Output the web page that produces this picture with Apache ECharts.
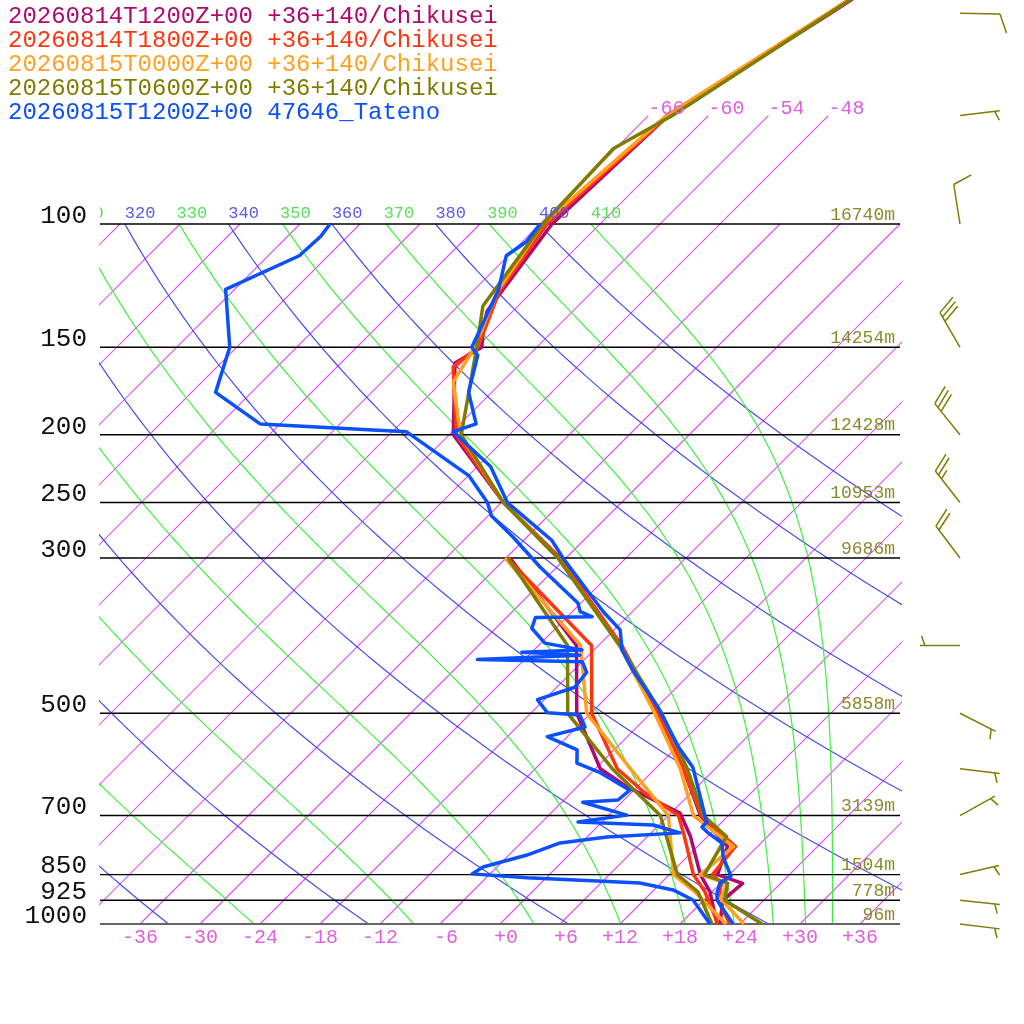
<!DOCTYPE html>
<html>
<head>
<meta charset="utf-8">
<script src="https://cdn.jsdelivr.net/npm/echarts@6/dist/echarts.min.js"></script>
<style>
html, body { margin: 0; padding: 0; background: #fff; }
#chart { width: 1024px; height: 1024px; }
</style>
</head>
<body>
<div id="chart"></div>
<script>
// ---- chart values ----
var isobarP = [100, 150, 200, 250, 300, 500, 700, 850, 925, 1000];
var isobarH = ['16740m', '14254m', '12428m', '10953m', '9686m', '5858m', '3139m', '1504m', '778m', '96m'];
var isothermT = [-108, -102, -96, -90, -84, -78, -72, -66, -60, -54, -48, -42, -36, -30, -24, -18, -12, -6, 0, 6, 12, 18, 24, 30, 36];
var upperIsothermT = [-66, -60, -54, -48];
var dryTheta = [240, 260, 280, 300, 320, 340, 360, 380, 400];
var moistThetaE = [250, 270, 290, 310, 330, 350, 370, 390, 410];
var thetaLabels = [310, 320, 330, 340, 350, 360, 370, 380, 390, 400, 410];

var names = [
    '20260814T1200Z+00 +36+140/Chikusei',
    '20260814T1800Z+00 +36+140/Chikusei',
    '20260815T0000Z+00 +36+140/Chikusei',
    '20260815T0600Z+00 +36+140/Chikusei',
    '20260815T1200Z+00 47646_Tateno'
];
var colors = ['#b0086c', '#ff3510', '#ffa020', '#807c00', '#0a50ff'];

// 14 12Z
var crimP  = [1000, 925, 875, 850, 775, 700, 600, 500, 400, 300, 250, 200, 158, 150, 139, 133, 100, 70, 50, 30];
var crimT  = [22.0, 19.9, 20.2, 16.8, 15.0, 9.2, 2.8, -5.3, -15.7, -30.6, -41.8, -53.6, -60.6, -59.5, -61.6, -62.6, -64.8, -64.0, -58.0, -49.8];
var crimDP = [1000, 900, 850, 750, 694, 637, 600, 500, 400, 300];
var crimTd = [21.7, 17.8, 15.1, 10.3, 6.9, -1.0, -5.5, -13.4, -20.2, -35.6];
// 14 18Z
var redP  = [1000, 925, 875, 850, 775, 700, 600, 500, 400, 300, 250, 200, 160, 150, 125, 100, 70, 50, 30];
var redT  = [23.0, 19.4, 18.1, 16.3, 15.8, 9.3, 2.8, -5.3, -15.7, -30.6, -41.8, -53.3, -60.4, -59.9, -63.3, -65.3, -64.0, -58.2, -50.0];
var redDP = [1000, 900, 850, 750, 700, 650, 600, 500, 400, 300];
var redTd = [21.8, 17.3, 14.4, 9.7, 7.0, 1.4, -3.8, -11.9, -18.7, -35.9];
// 15 00Z
var oraP  = [1000, 920, 875, 850, 775, 700, 600, 500, 400, 300, 250, 200, 168, 150, 125, 100, 70, 50, 30];
var oraT  = [24.4, 19.5, 18.7, 15.1, 15.6, 8.5, 2.5, -5.6, -15.9, -30.8, -41.8, -52.9, -58.9, -60.2, -63.5, -65.7, -64.2, -58.3, -50.2];
var oraDP = [1000, 900, 850, 700, 600, 500, 400, 300];
var oraTd = [22.6, 16.3, 12.4, 6.0, -2.5, -12.4, -19.8, -36.1];
// 15 06Z
var oliP  = [1000, 925, 875, 850, 750, 700, 600, 500, 400, 300, 250, 200, 150, 131, 100, 78, 70, 50, 30];
var oliT  = [26.2, 20.1, 18.7, 15.5, 13.9, 9.5, 3.2, -4.9, -15.9, -30.8, -41.8, -52.8, -60.0, -63.5, -65.7, -66.2, -63.6, -58.1, -50.0];
var oliDP = [1000, 900, 850, 700, 600, 500, 400, 300];
var oliTd = [21.2, 16.6, 12.8, 5.2, -4.3, -14.3, -21.1, -35.8];
// Tateno observed
var tatP = [1000, 924, 903, 874, 854, 802, 766, 741, 727, 715, 701, 658, 597, 558, 490, 434, 406, 380, 358, 300, 283, 250, 222, 198, 193, 174, 154, 150, 141, 124, 111, 106, 100];
var tatT = [23.3, 19.3, 18.6, 17.9, 18.3, 15.6, 14.1, 11.7, 10.5, 10.5, 9.7, 7.3, 3.6, 0.1, -5.9, -12.1, -15.2, -17.4, -20.9, -30.3, -33.2, -41.4, -46.7, -53.9, -52.4, -56.3, -59.1, -60.5, -61.5, -63.6, -66.2, -65.6, -66.0];
var tatDP = [1000, 924, 894, 874, 859, 848, 829, 797, 766, 751, 741, 722, 715, 699, 670, 665, 644, 608, 589, 564, 540, 523, 503, 499, 478, 459, 437, 422, 419, 413, 409, 406, 397, 378, 365, 364, 358, 348, 309, 280, 261, 250, 229, 198, 193, 174, 150, 124, 111, 104, 100];
var tatTd = [21.0, 16.9, 13.9, 9.9, -1.9, -7.8, -7.4, -4.2, -2.1, 2.0, 8.9, 5.4, -2.4, 1.8, -3.9, -0.6, -0.4, -5.1, -8.4, -9.7, -14.0, -11.2, -12.9, -16.4, -18.7, -16.2, -16.5, -18.0, -28.7, -18.9, -25.0, -19.2, -23.6, -26.4, -27.1, -21.5, -23.2, -24.3, -31.7, -37.4, -41.7, -43.4, -47.9, -58.6, -74.0, -81.6, -84.7, -90.9, -86.9, -86.7, -87.0];

// winds of the 15 06Z run
var windP   = [50, 70, 100, 150, 200, 250, 300, 400, 500, 600, 700, 850, 925, 1000];
var windDir = [91, 83, 351, 330, 321, 322, 323, 270, 117, 97, 61, 77, 96, 97];
var windSpd = [10, 5, 10, 30, 30, 25, 20, 5, 5, 5, 5, 5, 5, 5];

// ---- skew-T geometry ----
var SKEW = 70;            // x units (deg C) shifted per decade of pressure -> 45 deg
var YMAX = 924 / 700;     // plot top, decades above 1000 hPa
var BARB_X = 46;          // column of wind barbs, right of the diagram
var MONO = '"Liberation Mono", "DejaVu Sans Mono", monospace';

function yOf(p) { return Math.log10(1000 / p); }
function pt(p, t) { var y = yOf(p); return [t + SKEW * y, y]; }
function pairs(ps, ts) { return ps.map(function (p, i) { return pt(p, ts[i]); }); }
function fmtT(t) { var s = (t >= 0 ? '+' : '') + t; return s.length < 3 ? ' ' + s : s; }

function esat(tc) { return 6.112 * Math.exp(17.67 * tc / (tc + 243.5)); }
function thetaESat(tk, p) {
    var e = esat(tk - 273.15);
    if (e > 0.6 * p) return 1e9;
    var r = 0.622 * e / (p - e), rg = r * 1000;
    var th = tk * Math.pow(1000 / p, 0.2854 * (1 - 0.28 * r));
    return th * Math.exp((3.376 / tk - 0.00254) * rg * (1 + 0.00081 * rg));
}
function moistT(te, p) {
    var lo = 120, hi = 340;
    for (var k = 0; k < 50; k++) {
        var mid = (lo + hi) / 2;
        if (thetaESat(mid, p) > te) hi = mid; else lo = mid;
    }
    return (lo + hi) / 2 - 273.15;
}
function levels() {
    var out = [];
    for (var i = 0; i <= 60; i++) out.push(1000 * Math.pow(10, -i / 60));
    return out;
}

function bgLine(data, color, width, z) {
    return {
        type: 'line', data: data, showSymbol: false, silent: true, animation: false,
        clip: true, z: z || 1, color: color,
        itemStyle: { color: color },
        lineStyle: { color: color, width: width, opacity: 1 }
    };
}

var series = [];

// isotherms
isothermT.forEach(function (t) {
    var top = upperIsothermT.indexOf(t) >= 0 ? 70 : 100;
    series.push(bgLine([pt(1000, t), pt(top, t)], '#dc55f0', 1.2));
});
// dry adiabats
dryTheta.forEach(function (th) {
    var d = levels().map(function (p) { return pt(p, th * Math.pow(p / 1000, 0.286) - 273.15); });
    series.push(bgLine(d, '#4a4af0', 1.2));
});
// moist adiabats
moistThetaE.forEach(function (te) {
    var d = levels().map(function (p) { return pt(p, moistT(te, p)); });
    series.push(bgLine(d, '#3ef03e', 1.2));
});
// isobars
isobarP.forEach(function (p) {
    var y = yOf(p);
    series.push(bgLine([[-40, y], [40, y]], p === 1000 ? '#666666' : '#000000', p === 1000 ? 2 : 1.4, 2));
});

// soundings
function sounding(idx, ps, ts) {
    return {
        name: names[idx], type: 'line', data: pairs(ps, ts), showSymbol: false,
        animation: false, clip: true, z: 5 + idx * 0.1, color: colors[idx],
        lineStyle: { color: colors[idx], width: 3.5, join: 'round' }
    };
}
series.push(sounding(0, crimP, crimT), sounding(0, crimDP, crimTd));
series.push(sounding(1, redP, redT), sounding(1, redDP, redTd));
series.push(sounding(2, oraP, oraT), sounding(2, oraDP, oraTd));
series.push(sounding(3, oliP, oliT), sounding(3, oliDP, oliTd));
series.push(sounding(4, tatP, tatT), sounding(4, tatDP, tatTd));

// text helper for custom label series
function textSeries(data, clip, make) {
    return {
        type: 'custom', coordinateSystem: 'cartesian2d', clip: clip, silent: true,
        animation: false, z: 8, data: data,
        renderItem: function (params, api) {
            var c = api.coord([api.value(0), api.value(1)]);
            return make(c, params.dataIndex);
        }
    };
}
function txt(x, y, s, color, size, align) {
    return {
        type: 'text', x: x, y: y,
        style: { text: s, fill: color, font: size + 'px ' + MONO, align: align, verticalAlign: 'middle' }
    };
}

// pressure labels (left)
series.push(textSeries(isobarP.map(function (p) { return [-40, yOf(p)]; }), false, function (c, i) {
    return txt(c[0] - 13, c[1] - 8, String(isobarP[i]), '#111', 26, 'right');
}));
// height labels (right, inside)
series.push(textSeries(isobarP.map(function (p) { return [40, yOf(p)]; }), false, function (c, i) {
    return txt(c[0] - 5, c[1] - 9, isobarH[i], '#8a8a2a', 18, 'right');
}));
// theta labels along 100 hPa
series.push(textSeries(thetaLabels.map(function (th) { return pt(100, th * Math.pow(0.1, 0.286) - 273.15); }), true, function (c, i) {
    var th = thetaLabels[i];
    return txt(c[0], c[1] - 11, String(th), (th % 20 === 0) ? '#5a5af0' : '#5ae05a', 17, 'left');
}));
// isotherm labels at 70 hPa
series.push(textSeries(upperIsothermT.map(function (t) { return pt(70, t); }), false, function (c, i) {
    return txt(c[0], c[1] - 7, String(upperIsothermT[i]), '#e060e0', 20, 'left');
}));

// wind barbs
series.push({
    type: 'custom', coordinateSystem: 'cartesian2d', clip: false, silent: true,
    animation: false, z: 8,
    data: windP.map(function (p, i) { return [BARB_X, yOf(p), windDir[i], windSpd[i]]; }),
    renderItem: function (params, api) {
        var b = api.coord([api.value(0), api.value(1)]);
        var a = api.value(2) * Math.PI / 180, spd = api.value(3);
        var sx = Math.sin(a), sy = -Math.cos(a);
        var px = -sy, py = sx;
        var ang = 70 * Math.PI / 180;
        var bx = Math.cos(ang) * sx + Math.sin(ang) * px;
        var by = Math.cos(ang) * sy + Math.sin(ang) * py;
        var tip = [b[0] + 40 * sx, b[1] + 40 * sy];
        var st = { stroke: '#807c00', lineWidth: 1.5 };
        function seg(p0, p1) {
            return { type: 'line', shape: { x1: p0[0], y1: p0[1], x2: p1[0], y2: p1[1] }, style: st };
        }
        var kids = [seg(b, tip)];
        var full = Math.floor(spd / 10), half = (spd % 10) >= 5;
        var d = (full === 0 && half) ? 5 : 0;
        for (var k = 0; k < full; k++) {
            var s = [tip[0] - d * sx, tip[1] - d * sy];
            kids.push(seg(s, [s[0] + 20 * bx, s[1] + 20 * by]));
            d += 5;
        }
        if (half) {
            var h = [tip[0] - d * sx, tip[1] - d * sy];
            kids.push(seg(h, [h[0] + 10 * bx, h[1] + 10 * by]));
        }
        return { type: 'group', children: kids };
    }
});

var myChart = echarts.init(document.getElementById('chart'));
var option = {
    backgroundColor: '#fff',
    animation: false,
    grid: { left: 100, right: 124, top: 0, bottom: 100 },
    xAxis: {
        type: 'value', min: -40, max: 40, interval: 2,
        axisLine: { show: false }, axisTick: { show: false }, splitLine: { show: false },
        axisLabel: {
            margin: 4, color: '#e060e0', fontSize: 20, fontFamily: MONO,
            formatter: function (v) {
                var r = Math.round(v);
                return (r % 6 === 0 && Math.abs(r) <= 36) ? fmtT(r) : '';
            }
        }
    },
    yAxis: { type: 'value', min: 0, max: YMAX, show: false },
    graphic: names.map(function (n, i) {
        return {
            type: 'text', left: 8, top: 5 + 24 * i,
            style: { text: n, fill: colors[i], font: '24px ' + MONO }
        };
    }),
    series: series
};
myChart.setOption(option);
</script>
</body>
</html>
